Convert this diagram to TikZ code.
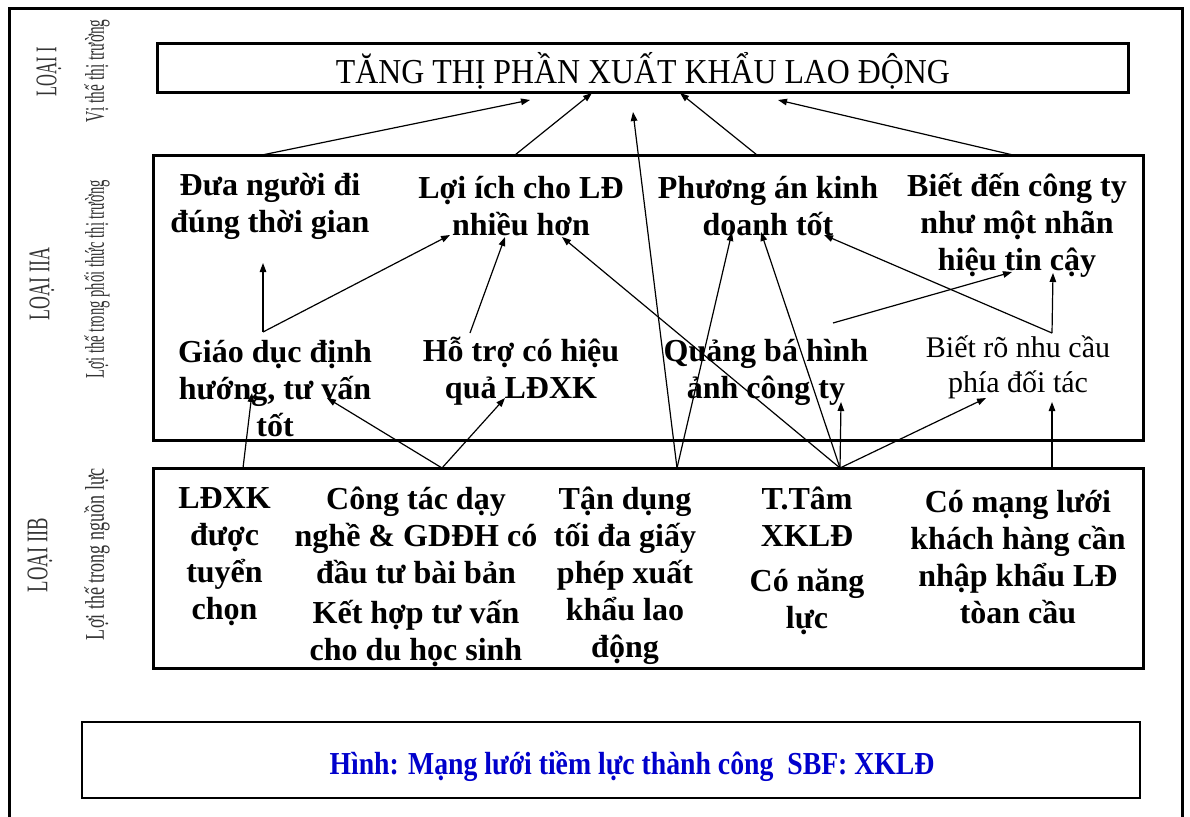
\documentclass[tikz,border=0pt]{standalone}
\usepackage{fontspec}
\setmainfont{Liberation Serif}
\usetikzlibrary{arrows.meta}
\definecolor{capblue}{RGB}{0,0,204}
\newcommand{\squeezeto}[2]{\resizebox{#1}{\height}{#2}}
\begin{document}
\begin{tikzpicture}[x=1pt,y=-1pt,
  outline/.style={draw=black,line width=3pt},
  panel/.style={draw=black,line width=3pt,inner sep=0pt},
  bold/.style={font=\bfseries\fontsize{32}{37}\selectfont,align=center,inner sep=0pt},
  light/.style={font=\fontsize{30}{35}\selectfont,align=center,inner sep=0pt},
  tierlabel/.style={rotate=90,inner sep=0pt,text=black!80,font=\fontsize{30}{34}\selectfont},
  tiernote/.style={rotate=90,inner sep=0pt,text=black!80,font=\fontsize{27}{31}\selectfont},
  link/.style={line width=1.2pt,-{Triangle[length=9pt,width=6.5pt]}},
]
\useasboundingbox (0,0) rectangle (1190,816);
\clip (0,0) rectangle (1190,816);
\fill[white] (0,0) rectangle (1190,816);

% page frame, open at the bottom
\draw[outline] (9,840) -- (9,9) -- (1182,9) -- (1182,840);

% the three tiers and the caption frame
\node[panel,minimum width=971pt,minimum height=48pt] (goalbox) at (642.5,68) {};
\node[panel,minimum width=990pt,minimum height=285pt] (mixbox) at (648,297.5) {};
\node[panel,minimum width=990pt,minimum height=200pt] (resbox) at (648,568) {};
\node[draw=black,line width=2pt,inner sep=0pt,minimum width=1058pt,minimum height=76pt] (capbox) at (611,760) {};

% tier labels on the left
\node[tierlabel] (tier1) at (49,72) {\squeezeto{49pt}{LOẠI I}};
\node[tiernote] (tier1n) at (97,71) {\squeezeto{103pt}{Vị thế thị trường}};
\node[tierlabel] (tier2) at (42,284) {\squeezeto{72pt}{LOẠI IIA}};
\node[tiernote] (tier2n) at (97,279) {\squeezeto{198pt}{Lợi thế trong phối thức thị trường}};
\node[tierlabel] (tier3) at (40,555) {\squeezeto{74pt}{LOẠI IIB}};
\node[tiernote] (tier3n) at (97,554) {\squeezeto{172pt}{Lợi thế trong nguồn lực}};

% goal
\node[font=\fontsize{35}{40}\selectfont,inner sep=0pt,anchor=base] (goal) at (643,83) {\squeezeto{614pt}{TĂNG THỊ PHẦN XUẤT KHẨU LAO ĐỘNG}};

% market-mix advantages
\node[bold] (ontime) at (270,206.5) {Đưa người đi\\đúng thời gian};
\node[bold] (benefit) at (521,206.5) {Lợi ích cho LĐ\\nhiều hơn};
\node[bold] (plan) at (768,206.5) {Phương án kinh\\doanh tốt};
\node[bold] (brand) at (1017,225) {Biết đến công ty\\như một nhãn\\hiệu tin cậy};
\node[bold] (guide) at (275,389) {Giáo dục định\\hướng, tư vấn\\tốt};
\node[bold] (support) at (521,371) {Hỗ trợ có hiệu\\quả LĐXK};
\node[bold] (promo) at (766,372) {Quảng bá hình\\ảnh công ty};
\node[light] (needs) at (1018,367) {Biết rõ nhu cầu\\phía đối tác};

% resource advantages
\node[bold] (select) at (224.5,557) {LĐXK\\được\\tuyển\\chọn};
\node[bold] (train) at (416,577) {Công tác dạy\\nghề \& GDĐH có\\đầu tư bài bản\\[3pt]Kết hợp tư vấn\\cho du học sinh};
\node[bold] (licence) at (625,576) {Tận dụng\\tối đa giấy\\phép xuất\\khẩu lao\\động};
\node[bold] (centre) at (807,561) {T.Tâm\\XKLĐ\\[8pt]Có năng\\lực};
\node[bold] (network) at (1018,557.5) {Có mạng lưới\\khách hàng cần\\nhập khẩu LĐ\\tòan cầu};

% caption
\node[font=\bfseries\fontsize{32}{37}\selectfont,text=capblue,inner sep=0pt] (caption) at (632,766) {\squeezeto{605pt}{Hình: Mạng lưới tiềm lực thành công\ \ SBF: XKLĐ}};

% connector ends
\coordinate (g1) at (530,100);
\coordinate (g2) at (592,93);
\coordinate (g3) at (633,112);
\coordinate (g4) at (680,93);
\coordinate (g5) at (778,100);
\coordinate (ontimeOut) at (262,155);
\coordinate (benefitOut) at (515,155);
\coordinate (planOut) at (757,155);
\coordinate (brandOut) at (1013,155);

\coordinate (ontimeIn) at (263,263);
\coordinate (benefitInA) at (450,235);
\coordinate (benefitInB) at (505,237);
\coordinate (benefitInC) at (562,237);
\coordinate (planInA) at (732,232);
\coordinate (planInB) at (761,232);
\coordinate (planInC) at (824,235);
\coordinate (brandInA) at (1012,272);
\coordinate (brandInB) at (1053,273);

\coordinate (guideOut) at (263,332);
\coordinate (supportOut) at (470,333);
\coordinate (promoOut) at (833,323);
\coordinate (needsOut) at (1052,333);

\coordinate (guideInA) at (252,393);
\coordinate (guideInB) at (327,398);
\coordinate (supportIn) at (505,398);
\coordinate (promoIn) at (841,402);
\coordinate (needsInA) at (986,398);
\coordinate (needsInB) at (1052,402);

\coordinate (selectOut) at (243,468);
\coordinate (trainOut) at (442,468);
\coordinate (licenceOut) at (677,468);
\coordinate (centreOut) at (840,468);
\coordinate (networkOut) at (1052,468);

% tier IIA to the goal
\draw[link] (ontimeOut) -- (g1);
\draw[link] (benefitOut) -- (g2);
\draw[link] (planOut) -- (g4);
\draw[link] (brandOut) -- (g5);
\draw[link] (licenceOut) -- (g3);

% inside tier IIA
\draw[link] (guideOut) -- (ontimeIn);
\draw[link] (guideOut) -- (benefitInA);
\draw[link] (supportOut) -- (benefitInB);
\draw[link] (promoOut) -- (brandInA);
\draw[link] (needsOut) -- (brandInB);
\draw[link] (needsOut) -- (planInC);

% tier IIB to tier IIA
\draw[link] (selectOut) -- (guideInA);
\draw[link] (trainOut) -- (guideInB);
\draw[link] (trainOut) -- (supportIn);
\draw[link] (licenceOut) -- (planInA);
\draw[link] (centreOut) -- (benefitInC);
\draw[link] (centreOut) -- (planInB);
\draw[link] (centreOut) -- (promoIn);
\draw[link] (centreOut) -- (needsInA);
\draw[link] (networkOut) -- (needsInB);
\end{tikzpicture}
\end{document}
